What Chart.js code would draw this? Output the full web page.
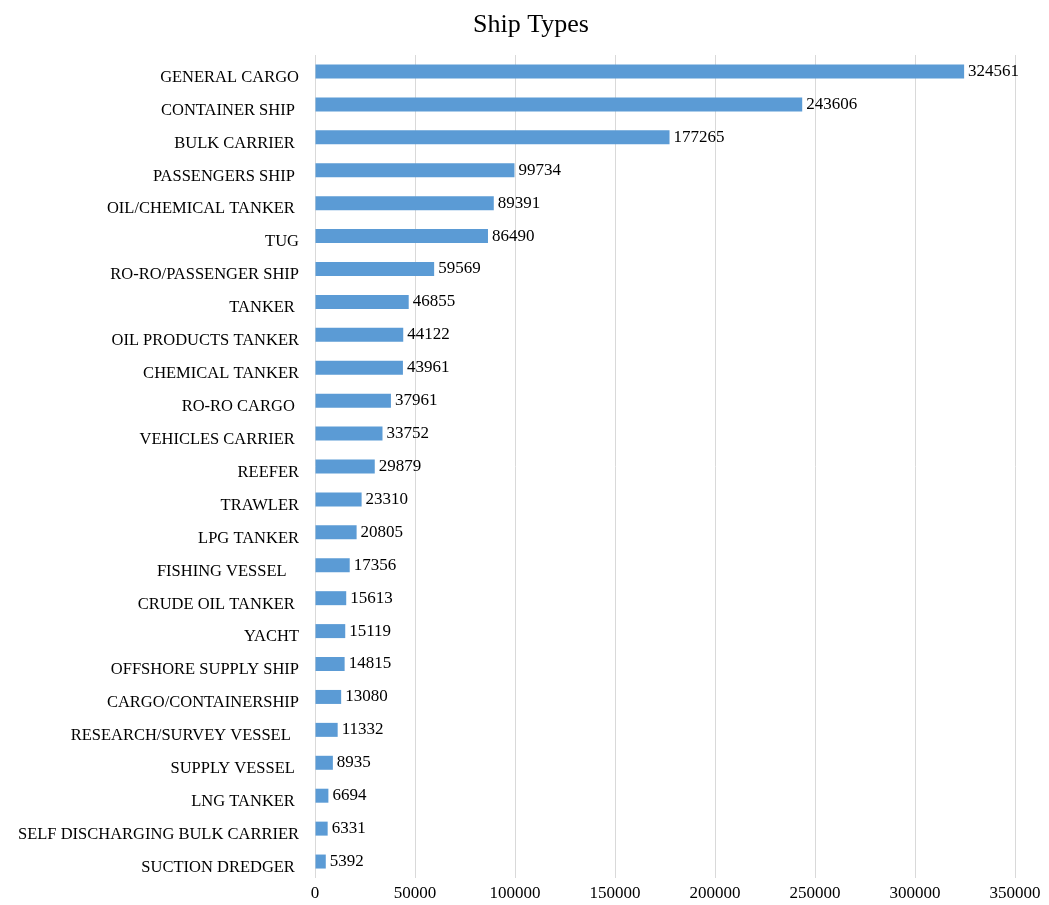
<!DOCTYPE html>
<html>
<head>
<meta charset="utf-8">
<script src="https://cdn.jsdelivr.net/npm/chart.js@4/dist/chart.umd.min.js"></script>
<style>
  html, body { margin: 0; padding: 0; background: #fff; }
  #wrap { width: 1049px; height: 905px; }
</style>
</head>
<body>
<div id="wrap"><canvas id="chart"></canvas></div>
<script>
const chartTitle = 'Ship Types';
const shipTypes = [
  'GENERAL CARGO', 'CONTAINER SHIP ', 'BULK CARRIER ', 'PASSENGERS SHIP ',
  'OIL/CHEMICAL TANKER ', 'TUG', 'RO-RO/PASSENGER SHIP', 'TANKER ',
  'OIL PRODUCTS TANKER', 'CHEMICAL TANKER', 'RO-RO CARGO ', 'VEHICLES CARRIER ',
  'REEFER', 'TRAWLER', 'LPG TANKER', 'FISHING VESSEL   ', 'CRUDE OIL TANKER ',
  'YACHT', 'OFFSHORE SUPPLY SHIP', 'CARGO/CONTAINERSHIP', 'RESEARCH/SURVEY VESSEL  ',
  'SUPPLY VESSEL ', 'LNG TANKER ', 'SELF DISCHARGING BULK CARRIER', 'SUCTION DREDGER '
];
const shipCounts = [
  324561, 243606, 177265, 99734, 89391, 86490, 59569, 46855, 44122, 43961,
  37961, 33752, 29879, 23310, 20805, 17356, 15613, 15119, 14815, 13080,
  11332, 8935, 6694, 6331, 5392
];
const xTicks = [0, 50000, 100000, 150000, 200000, 250000, 300000, 350000];

const serif = "'Liberation Serif', 'Times New Roman', serif";

// title sits a bit right of the canvas centre, like the original
const titleText = {
  id: 'titleText',
  afterDraw(chart) {
    const ctx = chart.ctx;
    ctx.save();
    ctx.font = '26px ' + serif;
    ctx.fillStyle = '#000';
    ctx.textAlign = 'center';
    ctx.textBaseline = 'middle';
    ctx.fillText(chartTitle, 531, 25);
    ctx.restore();
  }
};

// draws the value just past the end of each bar
const valueLabels = {
  id: 'valueLabels',
  afterDatasetsDraw(chart) {
    const ctx = chart.ctx;
    const meta = chart.getDatasetMeta(0);
    ctx.save();
    ctx.font = '17px ' + serif;
    ctx.fillStyle = '#000';
    ctx.textAlign = 'left';
    ctx.textBaseline = 'middle';
    meta.data.forEach((bar, i) => {
      ctx.fillText(String(shipCounts[i]), bar.x + 4, bar.y);
    });
    ctx.restore();
  }
};

new Chart(document.getElementById('chart'), {
  type: 'bar',
  data: {
    labels: shipTypes,
    datasets: [{
      data: shipCounts,
      backgroundColor: '#5B9BD5',
      barPercentage: 0.85,
      categoryPercentage: 0.5
    }]
  },
  options: {
    indexAxis: 'y',
    responsive: true,
    maintainAspectRatio: false,
    animation: false,
    layout: { padding: { left: 0, right: 34, top: 55, bottom: 0 } },
    plugins: {
      legend: { display: false },
      tooltip: { enabled: false },
      title: { display: false }
    },
    scales: {
      x: {
        min: 0,
        max: 350000,
        afterBuildTicks(scale) {
          scale.ticks = xTicks.map(v => ({ value: v }));
        },
        afterFit(scale) { scale.height = 27; },
        grid: { color: '#d9d9d9', drawTicks: false },
        border: { display: false },
        ticks: {
          color: '#000',
          padding: 5,
          maxRotation: 0,
          font: { family: serif, size: 17 },
          callback: v => String(v)
        }
      },
      y: {
        grid: { display: false, drawTicks: false },
        border: { display: false },
        afterFit(scale) { scale.width = 315; },
        ticks: {
          color: '#000',
          padding: 16,
          labelOffset: 6,
          autoSkip: false,
          font: { family: serif, size: 16.5 }
        }
      }
    }
  },
  plugins: [valueLabels, titleText]
});
</script>
</body>
</html>
